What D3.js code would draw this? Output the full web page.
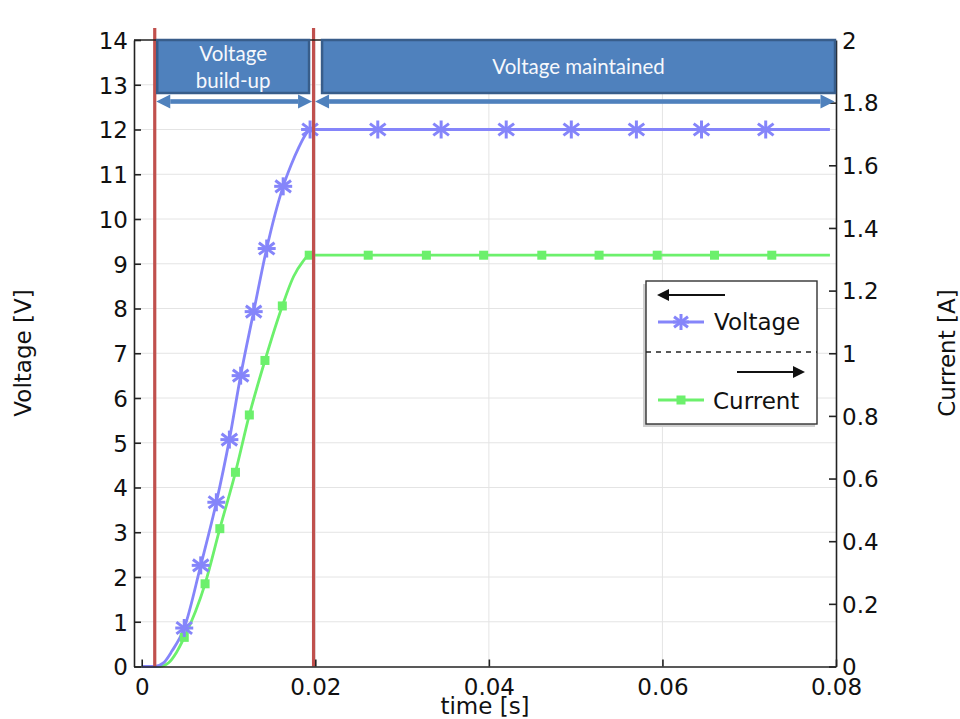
<!DOCTYPE html>
<html>
<head>
<meta charset="utf-8">
<script src="https://cdn.jsdelivr.net/npm/d3@7"></script>
<style>
  body { margin: 0; background: #fff; }
  svg { display: block; font-family: "DejaVu Sans", sans-serif; }
</style>
</head>
<body>
<svg width="960" height="719"></svg>
<script>
// voltage curve (time [s], voltage [V])
let timeV = [0, 0.0015, 0.0025, 0.0035, 0.0049, 0.0068, 0.0086, 0.0101, 0.0114, 0.0129, 0.0144, 0.0163, 0.0172, 0.0181, 0.0188, 0.0194, 0.0793];
let voltage = [0, 0, 0.08, 0.35, 0.86, 2.26, 3.67, 5.07, 6.50, 7.93, 9.34, 10.73, 11.2, 11.6, 11.86, 12.0, 12.0];
// current curve (time [s], current [A])
let timeI = [0, 0.0021, 0.0031, 0.0040, 0.0049, 0.0073, 0.0090, 0.0108, 0.0124, 0.0142, 0.0162, 0.0175, 0.0185, 0.0193, 0.0793];
let current = [0, 0, 0.012, 0.045, 0.093, 0.264, 0.440, 0.620, 0.803, 0.977, 1.151, 1.245, 1.29, 1.313, 1.313];
// marker positions
let markTimeV = [0.0049, 0.0068, 0.0086, 0.0101, 0.0114, 0.0129, 0.0144, 0.0163, 0.0194, 0.0272, 0.0345, 0.0420, 0.0495, 0.0570, 0.0645, 0.0719];
let markV = [0.86, 2.26, 3.67, 5.07, 6.50, 7.93, 9.34, 10.73, 12.0, 12.0, 12.0, 12.0, 12.0, 12.0, 12.0, 12.0];
let markTimeI = [0.0049, 0.0073, 0.0090, 0.0108, 0.0124, 0.0142, 0.0162, 0.0193, 0.0261, 0.0328, 0.0394, 0.0461, 0.0527, 0.0594, 0.0660, 0.0726];
let markI = [0.093, 0.264, 0.440, 0.620, 0.803, 0.977, 1.151, 1.313, 1.313, 1.313, 1.313, 1.313, 1.313, 1.313, 1.313, 1.313];
// phases
let phaseBounds = [0.0015, 0.0198, 0.08];
let phaseLabels = [["Voltage", "build-up"], ["Voltage maintained"]];
let xTicks = [0, 0.02, 0.04, 0.06, 0.08];
let yTicksL = d3.range(0, 15, 1);
let yTicksR = [0, 0.2, 0.4, 0.6, 0.8, 1, 1.2, 1.4, 1.6, 1.8, 2];

let svg = d3.select("svg"),
    pLeft = 134, pRight = 836, pTop = 40, pBottom = 666.5;

let x = d3.scaleLinear().domain([-0.00089, 0.08]).range([pLeft, pRight]),
    yL = d3.scaleLinear().domain([0, 14]).range([pBottom, pTop]),
    yR = d3.scaleLinear().domain([0, 2]).range([pBottom, pTop]);

let vColor = "#8585fa", iColor = "#6cf06c", red = "#c0504d", blue = "#4f81bd";

// grid
let grid = svg.append("g").attr("stroke", "#e4e4e4").attr("stroke-width", 1);
grid.selectAll(".gy").data(yTicksL.slice(1, -1)).enter().append("line")
    .attr("x1", pLeft).attr("x2", pRight)
    .attr("y1", (d) => yL(d)).attr("y2", (d) => yL(d));
grid.selectAll(".gx").data(xTicks.slice(1, -1)).enter().append("line")
    .attr("y1", pTop).attr("y2", pBottom)
    .attr("x1", (d) => x(d)).attr("x2", (d) => x(d));

// lines
let vData = timeV.map((t, i) => [t, voltage[i]]),
    iData = timeI.map((t, i) => [t, current[i]]);

svg.append("path")
    .attr("d", d3.line().x((d) => x(d[0])).y((d) => yR(d[1])).curve(d3.curveMonotoneX)(iData))
    .attr("fill", "none").attr("stroke", iColor).attr("stroke-width", 2.8);
svg.append("path")
    .attr("d", d3.line().x((d) => x(d[0])).y((d) => yL(d[1])).curve(d3.curveMonotoneX)(vData))
    .attr("fill", "none").attr("stroke", vColor).attr("stroke-width", 2.8);

// markers
let star = (g, s) => {
  g.append("line").attr("x1", 0).attr("x2", 0).attr("y1", -s).attr("y2", s);
  g.append("line").attr("x1", -s).attr("x2", s).attr("y1", 0).attr("y2", 0);
  let a = s * 0.87, b = s * 0.5;
  g.append("line").attr("x1", -a).attr("x2", a).attr("y1", -b * 1.3).attr("y2", b * 1.3);
  g.append("line").attr("x1", -a).attr("x2", a).attr("y1", b * 1.3).attr("y2", -b * 1.3);
};
svg.append("g").selectAll("rect").data(markTimeI).enter().append("rect")
    .attr("x", (d) => x(d) - 4.5).attr("y", (d, i) => yR(markI[i]) - 4.5)
    .attr("width", 9).attr("height", 9).attr("fill", iColor);
svg.append("g").selectAll("g").data(markTimeV).enter().append("g")
    .attr("transform", (d, i) => "translate(" + x(d) + "," + yL(markV[i]) + ")")
    .attr("stroke", vColor).attr("stroke-width", 3)
    .each(function() { star(d3.select(this), 9); });

// phase boundaries
svg.append("g").selectAll("line").data(phaseBounds.slice(0, 2)).enter().append("line")
    .attr("x1", (d) => x(d)).attr("x2", (d) => x(d))
    .attr("y1", 28).attr("y2", pBottom)
    .attr("stroke", red).attr("stroke-width", 3.2);

// axes
let axes = svg.append("g");
let gx = axes.append("g").attr("transform", "translate(0," + pBottom + ")")
    .call(d3.axisBottom(x).tickValues(xTicks).tickSize(-7).tickSizeOuter(0).tickPadding(12)
      .tickFormat((d) => d === 0 ? "0" : d3.format(".2f")(d)));
let gl = axes.append("g").attr("transform", "translate(" + pLeft + ",0)")
    .call(d3.axisLeft(yL).tickValues(yTicksL).tickSize(-7).tickSizeOuter(0).tickPadding(6).tickFormat(d3.format("d")));
let gr = axes.append("g").attr("transform", "translate(" + pRight + ",0)")
    .call(d3.axisRight(yR).tickValues(yTicksR).tickSize(-7).tickSizeOuter(0).tickPadding(6).tickFormat((d) => String(+d.toFixed(1))));
axes.selectAll("g").attr("font-size", 23).attr("font-family", "DejaVu Sans");
axes.selectAll("text").attr("fill", "#111");
axes.selectAll(".domain, .tick line").attr("stroke", "#222").attr("stroke-width", 1.6);
gl.selectAll(".tick text").attr("dy", "0.36em");
gr.selectAll(".tick text").attr("dy", "0.36em");
svg.append("line").attr("x1", pLeft).attr("x2", pRight).attr("y1", pTop).attr("y2", pTop)
    .attr("stroke", "#222").attr("stroke-width", 1.6);

// axis titles
svg.append("text").attr("x", (pLeft + pRight) / 2).attr("y", 714).attr("text-anchor", "middle")
    .style("font-size", "23px").attr("fill", "#111").text("time [s]");
svg.append("text").attr("transform", "translate(31,353) rotate(-90)").attr("text-anchor", "middle")
    .style("font-size", "23px").attr("fill", "#111").text("Voltage [V]");
svg.append("text").attr("transform", "translate(955,353) rotate(-90)").attr("text-anchor", "middle")
    .style("font-size", "23px").attr("fill", "#111").text("Current [A]");

// phase boxes and arrows
let pad = [[2.5, 4.5], [8.5, 1]];
phaseLabels.forEach((lab, i) => {
  let x0 = x(phaseBounds[i]) + pad[i][0], x1 = x(phaseBounds[i + 1]) - pad[i][1];
  svg.append("rect").attr("x", x0).attr("y", 40).attr("width", x1 - x0).attr("height", 53)
      .attr("fill", blue).attr("stroke", "#385d8a").attr("stroke-width", 2.5);
  let cx = (x0 + x1) / 2;
  lab.forEach((s, j) => {
    svg.append("text").attr("x", cx).attr("y", 67 + (j - (lab.length - 1) / 2) * 27).attr("dy", "0.35em")
        .attr("text-anchor", "middle").attr("fill", "#f6f8fc")
        .style("font-family", "Lato, 'Open Sans', sans-serif").style("font-size", "20.5px").text(s);
  });
  let a0 = x(phaseBounds[i]) + 1.5, a1 = x(phaseBounds[i + 1]) - 1.5, ay = 101.5, h = 14, w = 7;
  let ag = svg.append("g").attr("fill", blue);
  ag.append("rect").attr("x", a0 + h).attr("y", ay - 2.3).attr("width", a1 - a0 - 2 * h).attr("height", 4.6);
  ag.append("path").attr("d", "M" + a0 + "," + ay + "L" + (a0 + h) + "," + (ay - w) + "L" + (a0 + h) + "," + (ay + w) + "Z");
  ag.append("path").attr("d", "M" + a1 + "," + ay + "L" + (a1 - h) + "," + (ay - w) + "L" + (a1 - h) + "," + (ay + w) + "Z");
});

// legend
let lg = svg.append("g");
lg.append("rect").attr("x", 643).attr("y", 284).attr("width", 172).attr("height", 143).attr("fill", "#cfcfcf");
lg.append("rect").attr("x", 646).attr("y", 281).attr("width", 171).attr("height", 143)
    .attr("fill", "#fff").attr("stroke", "#333").attr("stroke-width", 1.4);
lg.append("line").attr("x1", 646).attr("x2", 817).attr("y1", 352).attr("y2", 352)
    .attr("stroke", "#222").attr("stroke-width", 1.4).attr("stroke-dasharray", "5,5");
// arrows
lg.append("line").attr("x1", 668).attr("x2", 725).attr("y1", 295).attr("y2", 295).attr("stroke", "#111").attr("stroke-width", 2);
lg.append("path").attr("d", "M657,295L669,289L669,301Z").attr("fill", "#111");
lg.append("line").attr("x1", 737).attr("x2", 794).attr("y1", 372).attr("y2", 372).attr("stroke", "#111").attr("stroke-width", 2);
lg.append("path").attr("d", "M805,372L793,366L793,378Z").attr("fill", "#111");
// entries
lg.append("line").attr("x1", 658).attr("x2", 704).attr("y1", 322).attr("y2", 322).attr("stroke", vColor).attr("stroke-width", 2.8);
lg.append("g").attr("transform", "translate(681,322)").attr("stroke", vColor).attr("stroke-width", 3)
    .call((g) => star(g, 8));
lg.append("line").attr("x1", 658).attr("x2", 704).attr("y1", 400).attr("y2", 400).attr("stroke", iColor).attr("stroke-width", 2.8);
lg.append("rect").attr("x", 676.5).attr("y", 395.5).attr("width", 9).attr("height", 9).attr("fill", iColor);
lg.append("text").attr("x", 714).attr("y", 322).attr("dy", "0.36em").style("font-size", "23px").attr("fill", "#111").text("Voltage");
lg.append("text").attr("x", 713).attr("y", 401).attr("dy", "0.36em").style("font-size", "23px").attr("fill", "#111").text("Current");
</script>
</body>
</html>
